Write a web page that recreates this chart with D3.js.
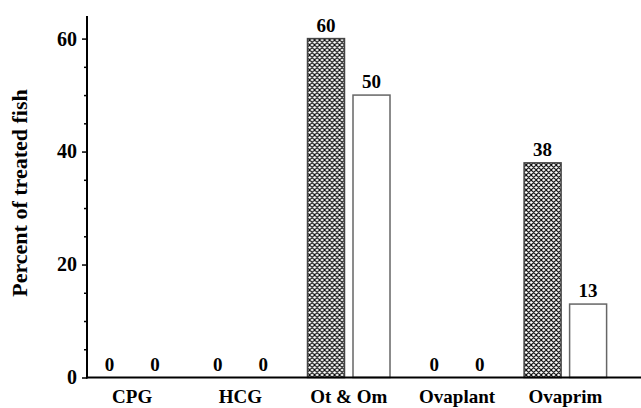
<!DOCTYPE html>
<html>
<head>
<meta charset="utf-8">
<script src="https://cdn.jsdelivr.net/npm/d3@7"></script>
<style>
  body { margin: 0; background: #fff; }
  svg text { font-family: "Liberation Serif", "Times New Roman", serif; font-weight: bold; fill: #000; }
</style>
</head>
<body>
<svg id="chart" width="641" height="408"></svg>
<script>
const categories = ["CPG", "HCG", "Ot & Om", "Ovaplant", "Ovaprim"];
const seriesNames = ["hatched", "open"];
const hatchedValues = [0, 0, 60, 0, 38];
const openValues = [0, 0, 50, 0, 13];
const majorTicks = [0, 20, 40, 60];
const minorTicks = [5, 10, 15, 25, 30, 35, 45, 50, 55];

const svg = d3.select("#chart");

// crosshatch fill
const defs = svg.append("defs");
const pat = defs.append("pattern")
  .attr("id", "xhatch")
  .attr("patternUnits", "userSpaceOnUse")
  .attr("width", 5)
  .attr("height", 5);
pat.append("rect").attr("width", 5).attr("height", 5).attr("fill", "#fff");
pat.append("path")
  .attr("d", "M0,0L5,5M5,0L0,5M-1,4L1,6M4,-1L6,1M-1,1L1,-1M4,6L6,4")
  .attr("stroke", "#000")
  .attr("stroke-width", 1.1);

const axisX = 87;
const y = d3.scaleLinear().domain([0, 64]).range([377.5, 16]);

const x = d3.scaleBand().domain(categories).range([78, 619.5]).paddingInner(0).paddingOuter(0);
const xInner = d3.scaleBand().domain(seriesNames).range([12.9, 95.4]).paddingInner(0.187);

const rows = categories.map((c, i) => ({ cat: c, values: [hatchedValues[i], openValues[i]] }));

const groups = svg.append("g").selectAll("g")
  .data(rows)
  .enter()
  .append("g")
  .attr("transform", d => `translate(${x(d.cat)},0)`);

groups.selectAll("rect")
  .data(d => d.values.map((v, j) => ({ key: seriesNames[j], value: v })).filter(e => e.value > 0))
  .enter()
  .append("rect")
  .attr("x", d => xInner(d.key))
  .attr("y", d => y(d.value))
  .attr("width", xInner.bandwidth())
  .attr("height", d => y(0) - y(d.value))
  .attr("fill", d => d.key === "hatched" ? "url(#xhatch)" : "#fff")
  .attr("stroke", d => d.key === "hatched" ? "#444" : "#666")
  .attr("stroke-width", 1.5);

groups.selectAll("text.val")
  .data(d => d.values.map((v, j) => ({ key: seriesNames[j], value: v })))
  .enter()
  .append("text")
  .attr("class", "val")
  .attr("x", d => xInner(d.key) + xInner.bandwidth() / 2)
  .attr("y", d => y(d.value) - 7)
  .attr("text-anchor", "middle")
  .style("font-size", "19px")
  .text(d => d.value);

// y axis
const yAxis = svg.append("g")
  .attr("transform", `translate(${axisX},0)`)
  .call(d3.axisLeft(y).tickValues(majorTicks).tickSize(5).tickPadding(5).tickFormat(d3.format("d")));
yAxis.select(".domain").remove();
yAxis.selectAll(".tick line").attr("stroke", "#000").attr("stroke-width", 1.5);
yAxis.selectAll(".tick text").style("font-size", "20px").attr("font-family", null);

const yMinor = svg.append("g")
  .attr("transform", `translate(${axisX},0)`)
  .call(d3.axisLeft(y).tickValues(minorTicks).tickSize(3).tickFormat(""));
yMinor.select(".domain").remove();
yMinor.selectAll(".tick line").attr("stroke", "#000").attr("stroke-width", 1.5);

svg.append("line")
  .attr("x1", axisX).attr("x2", axisX)
  .attr("y1", y.range()[1]).attr("y2", y(0) + 1)
  .attr("stroke", "#000").attr("stroke-width", 2);
svg.append("line")
  .attr("x1", axisX - 1).attr("x2", 641)
  .attr("y1", y(0)).attr("y2", y(0))
  .attr("stroke", "#000").attr("stroke-width", 2);

// category labels
svg.append("g").selectAll("text")
  .data(categories)
  .enter()
  .append("text")
  .attr("x", d => x(d) + x.bandwidth() / 2)
  .attr("y", 403)
  .attr("text-anchor", "middle")
  .style("font-size", "19px")
  .text(d => d);

svg.append("text")
  .attr("transform", "translate(27,193) rotate(-90)")
  .attr("text-anchor", "middle")
  .style("font-size", "22px")
  .text("Percent of treated fish");
</script>
</body>
</html>
